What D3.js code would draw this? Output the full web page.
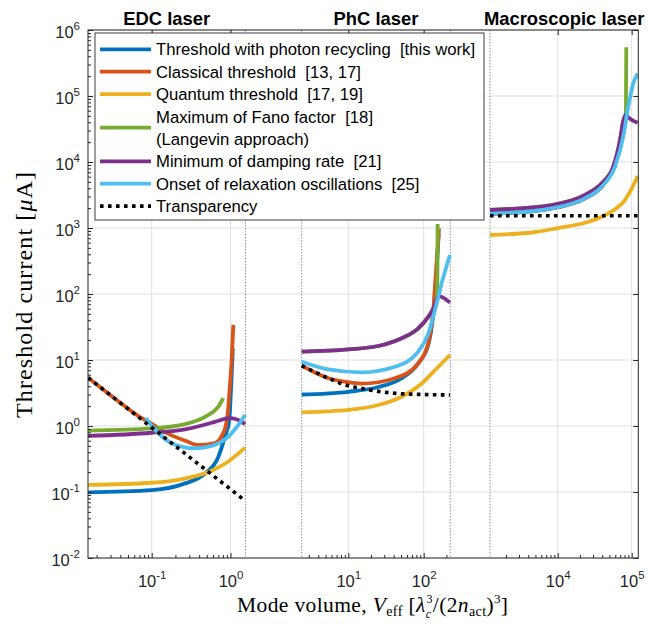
<!DOCTYPE html>
<html>
<head>
<meta charset="utf-8">
<script src="https://cdn.jsdelivr.net/npm/d3@7"></script>
<style>
  html, body { margin: 0; padding: 0; background: #fff; }
  svg { display: block; }
  text { white-space: pre; }
</style>
</head>
<body>
<svg id="chart" width="648" height="628"></svg>
<script>
// ---------------- DATA ----------------
const panelTitles = ["EDC laser", "PhC laser", "Macroscopic laser"];
const panelDomains = [[0.01554, 1.55], [2.41, 225.4], [1216.5, 122800]];
const xTickValues = [[0.1, 1], [10, 100], [1e4, 1e5]];
const xTickExponents = [["-1", "0"], ["1", "2"], ["4", "5"]];
const yTickValues = [1e-2, 1e-1, 1e0, 1e1, 1e2, 1e3, 1e4, 1e5, 1e6];
const yTickExponents = ["-2", "-1", "0", "1", "2", "3", "4", "5", "6"];

const seriesLabels = [
  ["Threshold with photon recycling  [this work]"],
  ["Classical threshold  [13, 17]"],
  ["Quantum threshold  [17, 19]"],
  ["Maximum of Fano factor  [18]", "(Langevin approach)"],
  ["Minimum of damping rate  [21]"],
  ["Onset of relaxation oscillations  [25]"],
  ["Transparency"]
];
const seriesColors = ["#0072BD", "#D95319", "#EDB120", "#77AC30", "#7E2F8E", "#4DBEEE", "#000000"];

// Threshold with photon recycling
const recyclingEDC = [[0.0156,0.099],[0.1,0.107],[0.265,0.135],[0.474,0.19],[0.70,0.34],[0.85,0.69],[0.966,1.23],[1.0,2.5],[1.035,6],[1.07,15]];
const recyclingPhC = [[2.41,3.0],[10,3.3],[25,3.9],[51,5.3],[84.7,8.9],[115,17],[134,50],[149,250],[158,800]];
const recyclingMacro = [[1216.5,1630],[8300,1990],[23400,2820],[39400,4230],[59400,8500]];
// Classical threshold
const classicalEDC = [[0.0156,5.4],[0.04,2.25],[0.07,1.38],[0.0906,1.16],[0.163,0.76],[0.265,0.6],[0.39,0.515],[0.635,0.55],[0.77,0.7],[0.87,1.0],[0.93,1.7],[0.966,3.1],[1.035,10],[1.086,34]];
const classicalPhC = [[2.41,8.2],[5.43,5.3],[9,4.7],[15.1,4.4],[41.6,5.3],[84.7,8.9],[115,17.9],[134,57],[149,327],[160,990]];
const classicalMacro = [[1216.5,1630],[8300,1990],[23400,2820],[39400,4230],[59400,8500]];
// Quantum threshold
const quantumEDC = [[0.0156,0.128],[0.1,0.138],[0.265,0.16],[0.577,0.21],[0.938,0.29],[1.53,0.47]];
const quantumPhC = [[2.41,1.61],[10,1.75],[25,2.08],[51,2.78],[94,4.4],[141,7.0],[223,11.9]];
const quantumMacro = [[1216.5,783],[5000,870],[9700,990],[23400,1200],[39400,1480],[65900,2100],[76900,2450],[89900,3200],[105000,4400],[120500,6140]];
// Maximum of Fano factor
const fanoEDC = [[0.0156,0.85],[0.1,0.92],[0.265,1.07],[0.474,1.38],[0.70,1.96],[0.81,2.63]];
const fanoPhC = [[2.41,13.4],[10,14.5],[25,16.3],[51,21.3],[84.7,30.2],[115,45],[134,60],[149,82],[152,200],[153,1150]];
const fanoMacro = [[1216.5,1875],[8300,2230],[23400,3160],[39400,4750],[56400,8500],[69500,21500],[76900,42000],[83500,52000],[84500,547000]];
// Minimum of damping rate
const dampingEDC = [[0.0156,0.71],[0.1,0.79],[0.265,0.89],[0.577,1.12],[0.70,1.2],[0.9,1.3],[1.0,1.32],[1.257,1.23],[1.53,1.07]];
const dampingPhC = [[2.41,13.4],[10,14.5],[25,16.3],[51,21.3],[84.7,30.2],[115,45],[134,60],[149,82],[158,93],[223,74]];
const dampingMacro = [[1216.5,1875],[8300,2230],[23400,3160],[39400,4750],[56400,8500],[69500,21500],[76900,42000],[83500,52000],[89900,47500],[120500,39400]];
// Onset of relaxation oscillations
const relaxationEDC = [[0.084,1.31],[0.121,0.78],[0.179,0.55],[0.355,0.46],[0.577,0.50],[0.938,0.69],[1.257,1.04],[1.53,1.47]];
const relaxationPhC = [[2.41,9.4],[5.43,7.2],[15.1,6.5],[41.6,7.9],[84.7,13.4],[115,25],[141,57],[173,145],[223,390]];
const relaxationMacro = [[1216.5,1630],[8300,1990],[23400,2820],[39400,4230],[59400,8500],[76900,24200],[89900,68900],[105000,155000],[120500,220000]];
// Transparency
const transparencyEDC = [[0.0156,5.4],[1.53,0.074]];
const transparencyPhC = [[2.41,8.2],[5.43,5.3],[9,4.2],[15.1,3.7],[25,3.35],[41.6,3.13],[100,3.0],[223,2.95]];
const transparencyMacro = [[1216.5,1535],[122800,1535]];

const seriesData = [
  [recyclingEDC, recyclingPhC, recyclingMacro],
  [classicalEDC, classicalPhC, classicalMacro],
  [quantumEDC, quantumPhC, quantumMacro],
  [fanoEDC, fanoPhC, fanoMacro],
  [dampingEDC, dampingPhC, dampingMacro],
  [relaxationEDC, relaxationPhC, relaxationMacro],
  [transparencyEDC, transparencyPhC, transparencyMacro]
];

// ---------------- LAYOUT ----------------
(function () {
const svg = d3.select("#chart");
const pL = 88, pR = 638.3, pT = 30, pB = 558;
const panelRanges = [[88, 245.5], [301.7, 450.3], [490, 638.3]];
const sans = "'Liberation Sans', Arial, Helvetica, sans-serif";
const serif = "'Liberation Serif', 'Times New Roman', serif";
const axisColor = "#262626";
const gridColor = "#dfdfdf";

const y = d3.scaleLog().domain([1e-2, 1e6]).range([pB, pT]);
const xs = panelDomains.map((d, i) => d3.scaleLog().domain(d).range(panelRanges[i]));

// grid: horizontal
const grid = svg.append("g");
yTickValues.forEach(v => {
  grid.append("line").attr("x1", pL).attr("x2", pR)
    .attr("y1", y(v)).attr("y2", y(v))
    .attr("stroke", gridColor).attr("stroke-width", 1);
});
// grid: vertical
xs.forEach((sc, i) => {
  xTickValues[i].forEach(v => {
    grid.append("line").attr("x1", sc(v)).attr("x2", sc(v))
      .attr("y1", pT).attr("y2", pB)
      .attr("stroke", gridColor).attr("stroke-width", 1);
  });
});
// panel separators (dotted)
panelRanges.forEach((r, i) => {
  r.forEach((px, j) => {
    if ((i === 0 && j === 0) || (i === 2 && j === 1)) return;
    grid.append("line").attr("x1", px).attr("x2", px)
      .attr("y1", pT).attr("y2", pB)
      .attr("stroke", "#8a8a8a").attr("stroke-width", 0.9)
      .attr("stroke-dasharray", "1.5,1.5");
  });
});

// curves
svg.append("clipPath").attr("id", "plotclip")
  .append("rect").attr("x", pL).attr("y", pT).attr("width", pR - pL).attr("height", pB - pT);
const plot = svg.append("g").attr("clip-path", "url(#plotclip)");

seriesData.forEach((panels, si) => {
  panels.forEach((pts, pi) => {
    const sc = xs[pi];
    const line = d3.line()
      .x(d => sc(d[0])).y(d => y(d[1]))
      .curve(d3.curveMonotoneX);
    const p = plot.append("path").datum(pts)
      .attr("d", line)
      .attr("fill", "none")
      .attr("stroke", seriesColors[si])
      .attr("stroke-linejoin", "round");
    if (si === 6) {
      p.attr("stroke-width", 3.6).attr("stroke-dasharray", "3.6,4.4");
    } else {
      p.attr("stroke-width", 3.8).attr("stroke-linecap", "butt");
    }
  });
});

// axes: y
const yMinor = [];
for (let k = -2; k < 6; k++) for (let m = 2; m <= 9; m++) yMinor.push(m * Math.pow(10, k));

const yAxis = svg.append("g").attr("transform", `translate(${pL},0)`)
  .call(d3.axisLeft(y).tickValues(yTickValues).tickSize(-5).tickPadding(8).tickFormat(() => "10"));
yAxis.select(".domain").remove();
yAxis.selectAll("line").attr("stroke", axisColor);
yAxis.selectAll("text")
  .attr("font-family", sans).attr("font-size", 16.5).attr("fill", axisColor)
  .attr("dy", null).attr("y", 7)
  .each(function(d, i) {
    d3.select(this).append("tspan").attr("dy", -8).attr("font-size", 11.5).text(yTickExponents[i]);
  });
const yAxisMinor = svg.append("g").attr("transform", `translate(${pL},0)`)
  .call(d3.axisLeft(y).tickValues(yMinor).tickSize(-3).tickFormat(""));
yAxisMinor.select(".domain").remove();
yAxisMinor.selectAll("line").attr("stroke", axisColor);

// right-side major ticks
const yAxisR = svg.append("g").attr("transform", `translate(${pR},0)`)
  .call(d3.axisRight(y).tickValues(yTickValues).tickSize(-5).tickFormat(""));
yAxisR.select(".domain").remove();
yAxisR.selectAll("line").attr("stroke", axisColor);

// axes: x per panel
xs.forEach((sc, i) => {
  const [d0, d1] = sc.domain();
  const minor = [];
  for (let k = Math.floor(Math.log10(d0)); k <= Math.ceil(Math.log10(d1)); k++) {
    for (let m = 2; m <= 9; m++) {
      const v = m * Math.pow(10, k);
      if (v >= d0 && v <= d1) minor.push(v);
    }
  }
  const ax = svg.append("g").attr("transform", `translate(0,${pB})`)
    .call(d3.axisBottom(sc).tickValues(xTickValues[i]).tickSize(-5).tickFormat(() => "10"));
  ax.select(".domain").remove();
  ax.selectAll("line").attr("stroke", axisColor);
  ax.selectAll("text")
    .attr("font-family", sans).attr("font-size", 16.5).attr("fill", axisColor)
    .attr("dy", null).attr("y", 29)
    .each(function(d, j) {
      d3.select(this).append("tspan").attr("dy", -8).attr("font-size", 11.5).text(xTickExponents[i][j]);
    });
  const axm = svg.append("g").attr("transform", `translate(0,${pB})`)
    .call(d3.axisBottom(sc).tickValues(minor).tickSize(-3).tickFormat(""));
  axm.select(".domain").remove();
  axm.selectAll("line").attr("stroke", axisColor);
  // top major ticks
  const axt = svg.append("g").attr("transform", `translate(0,${pT})`)
    .call(d3.axisTop(sc).tickValues(xTickValues[i]).tickSize(-5).tickFormat(""));
  axt.select(".domain").remove();
  axt.selectAll("line").attr("stroke", axisColor);
});

// box
svg.append("rect").attr("x", pL).attr("y", pT)
  .attr("width", pR - pL).attr("height", pB - pT)
  .attr("fill", "none").attr("stroke", axisColor).attr("stroke-width", 1);

// titles
xs.forEach((sc, i) => {
  const r = sc.range();
  svg.append("text").attr("x", (r[0] + r[1]) / 2).attr("y", 25)
    .attr("text-anchor", "middle").attr("font-family", sans)
    .attr("font-weight", "bold").attr("font-size", 18.4).attr("fill", "#000")
    .text(panelTitles[i]);
});

// legend
const lg = svg.append("g");
lg.append("rect").attr("x", 95).attr("y", 33).attr("width", 389).attr("height", 187)
  .attr("fill", "#fff").attr("stroke", axisColor).attr("stroke-width", 0.9);
let rowY = 49.3;
const rowH = 22.4;
seriesLabels.forEach((lines, i) => {
  const cy = rowY + (lines.length - 1) * rowH / 2;
  const l = lg.append("line").attr("x1", 100).attr("x2", 151).attr("y1", cy).attr("y2", cy)
    .attr("stroke", seriesColors[i]);
  if (i === 6) l.attr("stroke-width", 3.6).attr("stroke-dasharray", "3.6,4.4");
  else l.attr("stroke-width", 3.8);
  lines.forEach((t, k) => {
    lg.append("text").attr("x", 156).attr("y", rowY + k * rowH + 6)
      .attr("font-family", sans).attr("font-size", 16.7).attr("fill", "#000")
      .text(t);
  });
  rowY += lines.length * rowH;
});

// axis labels
const xl = svg.append("text").attr("x", 372.5).attr("y", 612)
  .attr("text-anchor", "middle").attr("font-family", serif).attr("font-size", 21.5).attr("fill", "#000")
  .attr("textLength", 271).attr("lengthAdjust", "spacing");
xl.append("tspan").text("Mode volume, ");
xl.append("tspan").attr("font-style", "italic").text("V");
xl.append("tspan").attr("font-size", 14).attr("dy", 4).text("eff");
xl.append("tspan").attr("dy", -4).text(" [");
xl.append("tspan").attr("font-style", "italic").text("λ");
xl.append("tspan").attr("font-style", "italic").attr("font-size", 12).attr("dy", 6).text("c");
xl.append("tspan").attr("font-size", 12).attr("dx", -5).attr("dy", -15).text("3");
xl.append("tspan").attr("dy", 9).text("/(2");
xl.append("tspan").attr("font-style", "italic").text("n");
xl.append("tspan").attr("font-size", 14).attr("dy", 4).text("act");
xl.append("tspan").attr("dy", -4).text(")");
xl.append("tspan").attr("font-size", 13).attr("dy", -9).text("3");
xl.append("tspan").attr("dy", 9).text("]");

const yl = svg.append("text").attr("transform", "translate(32,295) rotate(-90)")
  .attr("text-anchor", "middle").attr("font-family", serif).attr("font-size", 24).attr("fill", "#000")
  .attr("textLength", 246).attr("lengthAdjust", "spacing");
yl.append("tspan").text("Threshold current [");
yl.append("tspan").attr("font-style", "italic").text("μ");
yl.append("tspan").text("A]");
})();
</script>
</body>
</html>
